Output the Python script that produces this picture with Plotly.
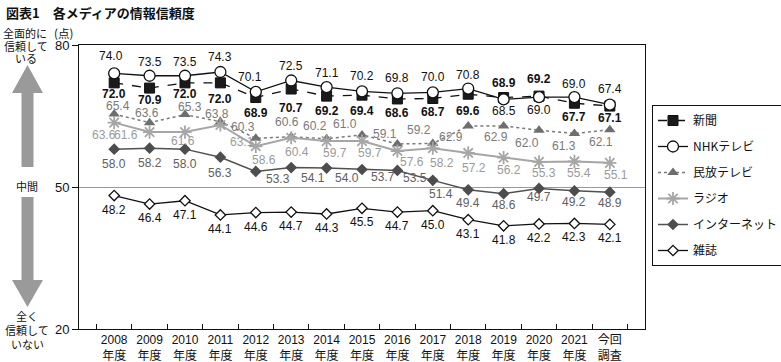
import plotly.graph_objects as go

# ---------------- data ----------------
categories = ["2008年度", "2009年度", "2010年度", "2011年度", "2012年度", "2013年度", "2014年度",
              "2015年度", "2016年度", "2017年度", "2018年度", "2019年度", "2020年度", "2021年度", "今回調査"]
tick_labels = ["2008<br>年度", "2009<br>年度", "2010<br>年度", "2011<br>年度", "2012<br>年度",
               "2013<br>年度", "2014<br>年度", "2015<br>年度", "2016<br>年度", "2017<br>年度",
               "2018<br>年度", "2019<br>年度", "2020<br>年度", "2021<br>年度", "今回<br>調査"]

shinbun = [72.0, 70.9, 72.0, 72.0, 68.9, 70.7, 69.2, 69.4, 68.6, 68.7, 69.6, 68.9, 69.2, 67.7, 67.1]
nhk = [74.0, 73.5, 73.5, 74.3, 70.1, 72.5, 71.1, 70.2, 69.8, 70.0, 70.8, 68.5, 69.0, 69.0, 67.4]
minpo = [65.4, 63.6, 65.3, 63.8, 60.3, 60.6, 60.2, 61.0, 59.1, 59.2, 62.9, 62.9, 62.0, 61.3, 62.1]
radio = [63.6, 61.6, 61.6, 63.1, 58.6, 60.4, 59.7, 59.7, 57.6, 58.2, 57.2, 56.2, 55.3, 55.4, 55.1]
internet = [58.0, 58.2, 58.0, 56.3, 53.3, 54.1, 54.0, 53.7, 53.5, 51.4, 49.4, 48.6, 49.7, 49.2, 48.9]
zasshi = [48.2, 46.4, 47.1, 44.1, 44.6, 44.7, 44.3, 45.5, 44.7, 45.0, 43.1, 41.8, 42.2, 42.3, 42.1]

y_ticks = [20, 50, 80]

# ---------------- styling ----------------
FONT = "Liberation Sans, Noto Sans CJK JP, sans-serif"
JFONT = "Noto Sans CJK JP, sans-serif"

# label offsets (pixels): (dx, dy) with dy>0 = up
off_shinbun = [(0, -11), (0, -12), (0, -11), (0, -16), (0, -15), (0, -19), (0, -15), (0, -16),
               (0, -14), (0, -14), (0, -17), (0, 15), (0, 17), (0, -14), (0, -12)]
off_nhk = [(-3, 17), (0, 14), (0, 14), (0, 15), (-6, 15), (0, 15), (0, 14), (0, 15),
           (0, 15), (0, 15), (0, 14), (0, -12), (0, -13), (0, 13), (0, 16)]
off_minpo = [(4, 8), (-3, 10), (5, 8), (-3, 8), (-13, 11), (-4, 15), (-12, 13), (-17, 11),
             (-12, 10), (-14, 13), (-17, -11), (-8, -11), (-12, -13), (-10, -12), (-9, -12)]
off_radio = [(-10, -12), (-24, -3), (-2, -9), (22, -17), (8, -14), (6, -14), (8, -12), (8, -12),
             (15, -11), (9, -15), (6, -15), (5, -12), (5, -11), (5, -12), (6, -12)]
off_internet = [(0, -15), (0, -15), (0, -15), (0, -16), (22, -8), (22, -10), (20, -10), (21, -8),
                (18, -8), (8, -14), (0, -13), (0, -11), (0, -9), (0, -11), (0, -11)]
off_zasshi = [(0, -14)] * 15

series = [
    dict(name="新聞", y=shinbun, off=off_shinbun, tcolor="#111111", bold=True,
         line=dict(color="#111111", width=1.3, dash="dash"),
         marker=dict(symbol="square", size=10, color="#1a1a1a", line=dict(color="#111111", width=1))),
    dict(name="NHKテレビ", y=nhk, off=off_nhk, tcolor="#111111", bold=False,
         line=dict(color="#111111", width=1.3),
         marker=dict(symbol="circle", size=11, color="white", line=dict(color="#111111", width=1.3))),
    dict(name="民放テレビ", y=minpo, off=off_minpo, tcolor="#7a7a7a", bold=False,
         line=dict(color="#7a7a7a", width=1.5, dash="dot"),
         marker=dict(symbol="triangle-up", size=10, color="#6e6e6e", line=dict(width=0))),
    dict(name="ラジオ", y=radio, off=off_radio, tcolor="#9a9a9a", bold=False,
         line=dict(color="#a6a6a6", width=2),
         marker=dict(symbol="asterisk-open", size=11, color="#a6a6a6", line=dict(color="#a0a0a0", width=1.8))),
    dict(name="インターネット", y=internet, off=off_internet, tcolor="#606060", bold=False,
         line=dict(color="#505050", width=1.5),
         marker=dict(symbol="diamond", size=9, color="#4d4d4d", line=dict(width=0))),
    dict(name="雑誌", y=zasshi, off=off_zasshi, tcolor="#111111", bold=False,
         line=dict(color="#111111", width=1.3),
         marker=dict(symbol="diamond", size=8, color="white", line=dict(color="#111111", width=1.3))),
]

fig = go.Figure()
annotations = []
for i, s in enumerate(series):
    fig.add_trace(go.Scatter(
        x=categories, y=s["y"], mode="lines+markers", name=s["name"],
        line=s["line"], marker=s["marker"], legendgroup=f"g{i}",
    ))
    for j, v in enumerate(s["y"]):
        dx, dy = s["off"][j]
        txt = f"{v:.1f}"
        if s["bold"]:
            txt = f"<b>{txt}</b>"
        annotations.append(dict(
            x=j, y=v, xref="x", yref="y", text=txt, showarrow=False,
            xshift=dx, yshift=dy, xanchor="center", yanchor="middle",
            font=dict(family=FONT, size=12, color=s["tcolor"]),
        ))

# pixel helpers (plot area: x 79..645, y 45..329)
L, R, T, B = 79, 645, 45, 329


def px(x):
    return (x - L) / (R - L)


def py(y):
    return (B - y) / (B - T)


def side_text(text, x, y, size=11, anchor="center"):
    annotations.append(dict(
        x=px(x), y=py(y), xref="paper", yref="paper", text=text, showarrow=False,
        xanchor=anchor, yanchor="middle", font=dict(family=JFONT, size=size, color="#111111"),
    ))


side_text("全面的に", 25, 33)
side_text("(点)", 63, 33, size=11.5)
side_text("信頼して", 26, 46)
side_text("いる", 26, 58)
side_text("中間", 27, 186)
side_text("全く", 27, 316)
side_text("信頼して", 27, 330)
side_text("いない", 27, 344)

annotations.append(dict(
    x=px(4), y=py(12), xref="paper", yref="paper", text="<b>図表1　各メディアの情報信頼度</b>",
    showarrow=False, xanchor="left", yanchor="middle",
    font=dict(family=JFONT, size=13, color="#111111"),
))

# gray arrows
cx, hw, sw = 27.5, 15.5, 6
up = [(cx, 65), (cx + hw, 93), (cx + sw, 93), (cx + sw, 167), (cx - sw, 167), (cx - sw, 93), (cx - hw, 93)]
down = [(cx, 307), (cx + hw, 280), (cx + sw, 280), (cx + sw, 197), (cx - sw, 197), (cx - sw, 280), (cx - hw, 280)]
shapes = []
for poly in (up, down):
    path = "M " + " L ".join(f"{px(a):.5f},{py(b):.5f}" for a, b in poly) + " Z"
    shapes.append(dict(type="path", path=path, xref="paper", yref="paper",
                       fillcolor="#9a9a9a", line=dict(width=0), layer="above"))

fig.update_layout(
    width=781, height=362,
    margin=dict(l=L, r=781 - R, t=T, b=362 - B, pad=0, autoexpand=False),
    paper_bgcolor="white", plot_bgcolor="white",
    font=dict(family=FONT, size=12, color="#111111"),
    annotations=annotations, shapes=shapes,
    showlegend=True,
    legend=dict(
        x=px(652), y=py(105), xanchor="left", yanchor="top",
        bordercolor="#111111", borderwidth=1, bgcolor="white",
        font=dict(family=JFONT, size=12, color="#111111"),
        tracegroupgap=7, traceorder="grouped", itemwidth=30,
    ),
    xaxis=dict(
        type="category", tickvals=categories, ticktext=tick_labels, tickangle=0,
        tickson="boundaries", ticks="inside", ticklen=5, tickcolor="#111111",
        showline=True, linecolor="#111111", linewidth=1, mirror=True, automargin=False,
        showgrid=False, tickfont=dict(family=FONT, size=12, color="#111111"),
    ),
    yaxis=dict(
        range=[20, 80], tickvals=y_ticks, ticks="outside", ticklen=6, tickcolor="#111111",
        showline=True, linecolor="#111111", linewidth=1, mirror=True, automargin=False,
        showgrid=True, gridcolor="#9a9a9a", gridwidth=1, zeroline=False,
        tickfont=dict(family=FONT, size=13, color="#111111"),
    ),
)

fig.write_html(
    "out.html",
    config={"displayModeBar": False},
    post_script="document.body.style.margin='0';document.body.style.padding='0';",
)
